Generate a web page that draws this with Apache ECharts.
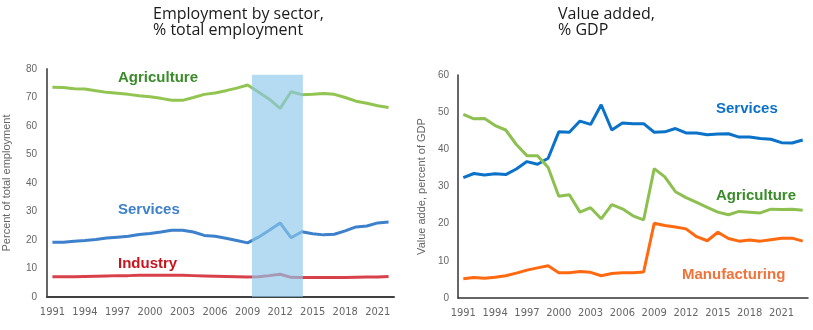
<!DOCTYPE html>
<html><head><meta charset="utf-8">
<script src="https://cdn.jsdelivr.net/npm/echarts@6/dist/echarts.min.js"></script>
<style>html,body{margin:0;padding:0;background:#fff}#c{width:813px;height:330px}</style>
</head><body><div id="c"></div>
<script>
// ---- Data ----
const empYears = ['1991','1992','1993','1994','1995','1996','1997','1998','1999','2000','2001','2002','2003','2004','2005','2006','2007','2008','2009','2010','2011','2012','2013','2014','2015','2016','2017','2018','2019','2020','2021','2022'];
const empAgriculture = [73.6,73.5,73.1,73.0,72.4,71.8,71.5,71.1,70.6,70.3,69.7,69.0,69.0,70.0,71.1,71.6,72.4,73.3,74.4,71.9,69.4,66.2,72.0,71.0,71.1,71.4,71.1,70.0,68.7,68.0,67.1,66.5];
const empServices = [19.2,19.2,19.6,19.8,20.2,20.7,21.0,21.3,21.9,22.3,22.8,23.4,23.4,22.8,21.6,21.3,20.6,19.8,19.0,21.0,23.4,26.0,20.8,22.9,22.2,21.8,22.0,23.2,24.6,24.9,26.0,26.3];
const empIndustry = [7.1,7.1,7.1,7.2,7.3,7.4,7.5,7.5,7.6,7.6,7.6,7.6,7.6,7.5,7.4,7.3,7.2,7.1,7.0,7.1,7.5,8.0,6.9,6.8,6.8,6.8,6.8,6.8,6.9,7.0,7.0,7.2];

const vaYears = ['1991','1992','1993','1994','1995','1996','1997','1998','1999','2000','2001','2002','2003','2004','2005','2006','2007','2008','2009','2010','2011','2012','2013','2014','2015','2016','2017','2018','2019','2020','2021','2022','2023'];
const vaServices = [32.4,33.5,33.1,33.4,33.2,34.7,36.7,36.0,37.6,44.7,44.6,47.6,46.7,52.0,45.2,47.1,46.9,46.9,44.6,44.7,45.6,44.4,44.4,43.9,44.1,44.2,43.3,43.3,42.9,42.7,41.8,41.7,42.5];
const vaAgriculture = [49.4,48.2,48.3,46.4,45.2,41.3,38.3,38.3,35.1,27.4,27.8,23.1,24.3,21.3,25.1,24.0,22.1,21.0,34.8,32.6,28.6,27.0,25.7,24.4,23.1,22.4,23.3,23.1,22.9,23.9,23.8,23.9,23.6];
const vaManufacturing = [5.2,5.5,5.3,5.6,6.0,6.7,7.5,8.1,8.7,6.8,6.8,7.1,6.9,6.0,6.6,6.8,6.8,7.0,20.1,19.5,19.1,18.6,16.5,15.4,17.7,16.0,15.3,15.6,15.3,15.7,16.1,16.1,15.3];

const shadeYears = [2009.4, 2014.1];
const shadeTop = 78;

// ---- Chart ----
const chart = echarts.init(document.getElementById('c'));
const tickFont = {color:'#666', fontSize:10, fontFamily:'Liberation Sans'};
const xFont = {color:'#666', fontSize:11, fontFamily:'Liberation Sans Narrow, DejaVu Sans Condensed, Liberation Sans', margin:10, interval:2};
const labelFont = 'Liberation Sans';

chart.setOption({
  animation:false,
  backgroundColor:'#fff',
  title:[
    {text:'Employment by sector,\n% total employment', left:148, top:1,
     textStyle:{fontFamily:'Open Sans', fontSize:16, fontWeight:'normal', color:'#1a1a1a', lineHeight:16}},
    {text:'Value added,\n% GDP', left:553, top:1,
     textStyle:{fontFamily:'Open Sans', fontSize:16, fontWeight:'normal', color:'#1a1a1a', lineHeight:16}}
  ],
  grid:[
    {left:42, right:419, top:69, bottom:33},
    {left:458, right:5, top:75, bottom:32}
  ],
  xAxis:[
    {type:'category', gridIndex:0, data:empYears, boundaryGap:true,
     axisTick:{show:false}, axisLine:{lineStyle:{color:'#404040', width:2}},
     axisLabel:xFont},
    {type:'value', gridIndex:0, min:1990.5, max:2022.5, show:false},
    {type:'category', gridIndex:1, data:vaYears, boundaryGap:true,
     axisTick:{show:false}, axisLine:{lineStyle:{color:'#333', width:1.5}},
     axisLabel:xFont}
  ],
  yAxis:[
    {type:'value', gridIndex:0, min:0, max:80, interval:10,
     name:'Percent of total employment', nameLocation:'middle', nameGap:35,
     nameTextStyle:{color:'#666', fontSize:11, fontFamily:labelFont},
     splitLine:{show:false}, axisTick:{show:false},
     axisLine:{show:true, lineStyle:{color:'#666', width:2}},
     axisLabel:Object.assign({margin:10}, tickFont)},
    {type:'value', gridIndex:1, min:0, max:60, interval:10,
     name:'Value adde, percent of GDP', nameLocation:'middle', nameGap:31,
     nameTextStyle:{color:'#666', fontSize:11, fontFamily:labelFont},
     splitLine:{show:false}, axisTick:{show:false},
     axisLine:{show:true, lineStyle:{color:'#333', width:1.5}},
     axisLabel:Object.assign({margin:9}, tickFont)}
  ],
  series:[
    {type:'line', name:'Agriculture', xAxisIndex:0, yAxisIndex:0, data:empAgriculture, symbol:'none', lineStyle:{color:'#92c451', width:3}},
    {type:'line', name:'Services', xAxisIndex:0, yAxisIndex:0, data:empServices, symbol:'none', lineStyle:{color:'#3d80cc', width:3}},
    {type:'line', name:'Industry', xAxisIndex:0, yAxisIndex:0, data:empIndustry, symbol:'none', lineStyle:{color:'#d9414a', width:3}},
    {type:'line', name:'shade', xAxisIndex:1, yAxisIndex:0, data:[], symbol:'none', z:10,
     markArea:{silent:true, z:10, itemStyle:{color:'rgba(140,200,235,0.65)'},
       data:[[{xAxis:shadeYears[0], yAxis:0},{xAxis:shadeYears[1], yAxis:shadeTop}]]}},
    {type:'line', name:'VA Services', xAxisIndex:2, yAxisIndex:1, data:vaServices, symbol:'none', lineStyle:{color:'#0a72c8', width:3}},
    {type:'line', name:'VA Agriculture', xAxisIndex:2, yAxisIndex:1, data:vaAgriculture, symbol:'none', lineStyle:{color:'#8dc050', width:3}},
    {type:'line', name:'VA Manufacturing', xAxisIndex:2, yAxisIndex:1, data:vaManufacturing, symbol:'none', lineStyle:{color:'#ff6a10', width:3}}
  ],
  graphic:[
    {type:'text', left:118, top:70, style:{text:'Agriculture', fill:'#3a8c2a', font:'bold 15px '+labelFont}},
    {type:'text', left:118, top:202, style:{text:'Services', fill:'#3d80cc', font:'bold 15px '+labelFont}},
    {type:'text', left:118, top:256, style:{text:'Industry', fill:'#c8141e', font:'bold 15px '+labelFont}},
    {type:'text', left:716, top:101, style:{text:'Services', fill:'#0a72c8', font:'bold 15px '+labelFont}},
    {type:'text', left:716, top:188, style:{text:'Agriculture', fill:'#3a8c2a', font:'bold 15px '+labelFont}},
    {type:'text', left:682, top:267, style:{text:'Manufacturing', fill:'#f2733a', font:'bold 15px '+labelFont}}
  ]
});
</script>
</body></html>
